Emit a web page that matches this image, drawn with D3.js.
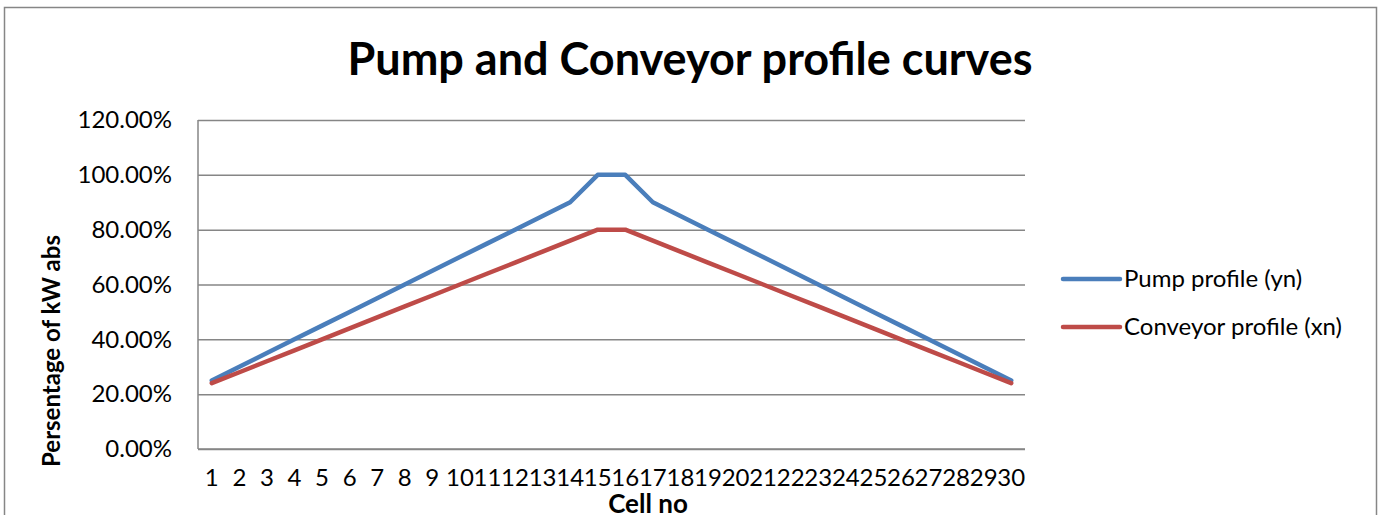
<!DOCTYPE html>
<html>
<head>
<meta charset="utf-8">
<script src="https://cdn.jsdelivr.net/npm/d3@7"></script>
<style>
  body { margin: 0; background: #fff; }
  svg { display: block; font-family: Lato, "Open Sans", sans-serif; }
</style>
</head>
<body>
<svg class="profile_chart" width="1382" height="515"></svg>
<script>
// Chart data
var cells = ["1","2","3","4","5","6","7","8","9","10","11","12","13","14","15",
             "16","17","18","19","20","21","22","23","24","25","26","27","28","29","30"];
var pump = [0.25, 0.30, 0.35, 0.40, 0.45, 0.50, 0.55, 0.60, 0.65, 0.70, 0.75, 0.80, 0.85, 0.90, 1.00,
            1.00, 0.90, 0.85, 0.80, 0.75, 0.70, 0.65, 0.60, 0.55, 0.50, 0.45, 0.40, 0.35, 0.30, 0.25];
var conveyor = [0.24, 0.28, 0.32, 0.36, 0.40, 0.44, 0.48, 0.52, 0.56, 0.60, 0.64, 0.68, 0.72, 0.76, 0.80,
                0.80, 0.76, 0.72, 0.68, 0.64, 0.60, 0.56, 0.52, 0.48, 0.44, 0.40, 0.36, 0.32, 0.28, 0.24];
var yTicks = [0, 0.2, 0.4, 0.6, 0.8, 1.0, 1.2];
var seriesNames = ["Pump profile (yn)", "Conveyor profile (xn)"];
var seriesColours = ["#4a7ebb", "#be4b48"];

// Plot area
var plotLeft = 198, plotRight = 1025, plotTop = 120, plotBottom = 449;

var svg = d3.select("svg.profile_chart");

// outer chart border
svg.append("rect")
    .attr("x", 4.5).attr("y", 7.5)
    .attr("width", 1372).attr("height", 540)
    .attr("fill", "none")
    .attr("stroke", "#868686")
    .attr("stroke-width", 1.5);

var x = d3.scaleBand()
    .domain(cells)
    .range([plotLeft, plotRight]);

var y = d3.scaleLinear()
    .domain([0, 1.2])
    .range([plotBottom, plotTop]);

// gridlines + y labels
var yAxis = svg.append("g")
    .attr("transform", "translate(" + plotLeft + ",0)")
    .call(d3.axisLeft(y)
        .tickValues(yTicks)
        .tickFormat(d3.format(".2%"))
        .tickSize(-(plotRight - plotLeft))
        .tickPadding(26));
yAxis.select(".domain").remove();
yAxis.selectAll(".tick line")
    .attr("stroke", "#868686")
    .attr("stroke-width", 1.5);
yAxis.selectAll(".tick text")
    .attr("fill", "#000")
    .style("font-size", "24px")
    .style("font-family", "Lato, sans-serif");

// left axis line
svg.append("line")
    .attr("x1", plotLeft).attr("x2", plotLeft)
    .attr("y1", plotTop).attr("y2", plotBottom)
    .attr("stroke", "#868686")
    .attr("stroke-width", 1.5);

// x axis
var xAxis = svg.append("g")
    .attr("transform", "translate(0," + plotBottom + ")")
    .call(d3.axisBottom(x).tickSize(0).tickPadding(20));
xAxis.select(".domain").remove();
xAxis.selectAll(".tick text")
    .attr("fill", "#000")
    .style("font-size", "24px")
    .style("font-family", "Lato, sans-serif");

svg.append("line")
    .attr("x1", plotLeft).attr("x2", plotRight)
    .attr("y1", plotBottom).attr("y2", plotBottom)
    .attr("stroke", "#868686")
    .attr("stroke-width", 1.5);

// lines
var line = d3.line()
    .x(function(d, i) { return x(cells[i]) + x.bandwidth() / 2; })
    .y(function(d) { return y(d); });

[pump, conveyor].forEach(function(series, k) {
    svg.append("path")
        .datum(series)
        .attr("d", line)
        .attr("fill", "none")
        .attr("stroke", seriesColours[k])
        .attr("stroke-width", 4.5)
        .attr("stroke-linecap", "round")
        .attr("stroke-linejoin", "round");
});

// title
svg.append("text")
    .attr("x", 690).attr("y", 75)
    .attr("text-anchor", "middle")
    .style("font-size", "45px")
    .style("font-weight", "bold")
    .text("Pump and Conveyor profile curves");

// axis titles
svg.append("text")
    .attr("transform", "translate(60,351) rotate(-90)")
    .attr("text-anchor", "middle")
    .style("font-size", "24px")
    .style("font-weight", "bold")
    .text("Persentage of kW abs");

svg.append("text")
    .attr("x", 648).attr("y", 513)
    .attr("text-anchor", "middle")
    .style("font-size", "26px")
    .style("font-weight", "bold")
    .text("Cell no");

// legend
var legend = svg.append("g")
    .selectAll("g")
    .data(seriesNames)
    .enter()
    .append("g")
    .attr("transform", function(d, i) { return "translate(1063," + (279 + i * 48) + ")"; });

legend.append("line")
    .attr("x1", 0).attr("x2", 57)
    .attr("stroke", function(d, i) { return seriesColours[i]; })
    .attr("stroke-width", 4.5)
    .attr("stroke-linecap", "round");

legend.append("text")
    .attr("x", 61)
    .attr("dy", "0.35em")
    .style("font-size", "24px")
    .text(function(d) { return d; });
</script>
</body>
</html>
